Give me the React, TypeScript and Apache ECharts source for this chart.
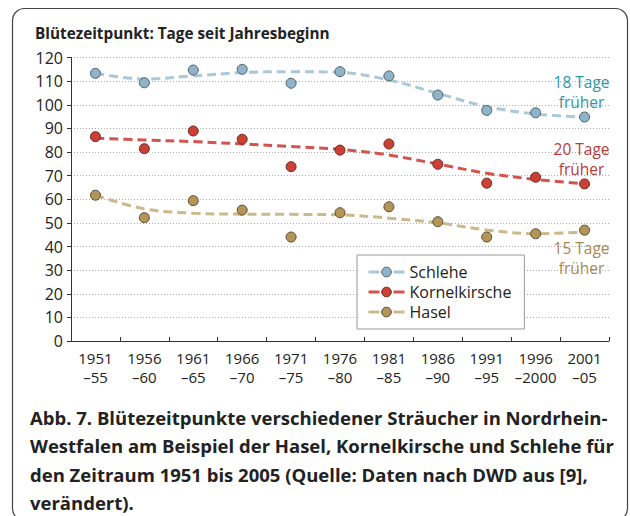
import React, { useEffect, useRef } from "react";
import * as echarts from "echarts";

const categories = [
  "1951\n–55", "1956\n–60", "1961\n–65", "1966\n–70", "1971\n–75", "1976\n–80",
  "1981\n–85", "1986\n–90", "1991\n–95", "1996\n–2000", "2001\n–05",
];

const schlehePoints = [113.3, 109.3, 114.7, 115.0, 109.1, 114.0, 112.2, 104.1, 97.6, 96.6, 94.8];
const schleheTrend = [113.3, 110.9, 112.2, 113.6, 114.0, 113.7, 110.5, 104.8, 99.2, 96.1, 94.7];
const kornelPoints = [86.5, 81.4, 88.9, 85.4, 73.8, 80.8, 83.4, 74.8, 66.8, 69.3, 66.5];
const kornelTrend = [85.8, 85.1, 84.4, 83.4, 82.3, 81.1, 78.7, 74.9, 71.0, 68.4, 66.5];
const haselPoints = [61.7, 52.2, 59.4, 55.4, 44.0, 54.3, 56.8, 50.5, 44.0, 45.4, 46.9];
const haselTrend = [61.7, 55.9, 54.1, 53.7, 53.6, 53.4, 52.0, 50.0, 47.0, 45.4, 46.1];

const seriesNames = ["Schlehe", "Kornelkirsche", "Hasel"];
const annotations = ["18 Tage\nfrüher", "20 Tage\nfrüher", "15 Tage\nfrüher"];

const titleText = "Blütezeitpunkt: Tage seit Jahresbeginn";
const captionText =
  "Abb. 7. Blütezeitpunkte verschiedener Sträucher in Nordrhein-\nWestfalen am Beispiel der Hasel, Kornelkirsche und Schlehe für\nden Zeitraum 1951 bis 2005 (Quelle: Daten nach DWD aus [9],\nverändert).";

const FONT = "'Open Sans', 'Noto Sans', sans-serif";

const styles = [
  { line: "#a9c8d8", fill: "#8fb3c8", border: "#4f5f68", text: "#2f97a6", labelPos: "top", dist: -1 },
  { line: "#d4534c", fill: "#cc3f35", border: "#6a2a25", text: "#b83a37", labelPos: "top", dist: -1 },
  { line: "#cdb88a", fill: "#b39459", border: "#5a4a30", text: "#a8894a", labelPos: "bottom", dist: 2 },
];

export default function App() {
  const ref = useRef<HTMLDivElement>(null);

  useEffect(() => {
    if (!ref.current) return;
    const chart = echarts.init(ref.current, undefined, { renderer: "svg" });
    const points = [schlehePoints, kornelPoints, haselPoints];
    const trends = [schleheTrend, kornelTrend, haselTrend];

    const lineSeries = seriesNames.map((name, k) => ({
      type: "line",
      name,
      data: trends[k],
      smooth: 0.35,
      showSymbol: false,
      symbol: "circle",
      z: 2,
      silent: true,
      lineStyle: { color: styles[k].line, width: 3, type: [9, 5] },
      itemStyle: { color: styles[k].fill, borderColor: styles[k].border, borderWidth: 1 },
    }));

    const scatterSeries = seriesNames.map((name, k) => ({
      type: "scatter",
      name: name + " Werte",
      symbol: "circle",
      symbolSize: 10,
      z: 3,
      itemStyle: { color: styles[k].fill, borderColor: styles[k].border, borderWidth: 1, opacity: 1 },
      data: points[k].map((v, i) =>
        i === points[k].length - 1
          ? {
              value: v,
              label: {
                show: true,
                formatter: annotations[k],
                position: styles[k].labelPos,
                distance: styles[k].dist,
                offset: [-3, 0],
                align: "center",
                color: styles[k].text,
                fontFamily: FONT,
                fontSize: 15.5,
                lineHeight: 20.5,
              },
            }
          : v
      ),
    }));

    chart.setOption({
      animation: false,
      backgroundColor: "#ffffff",
      title: {
        text: titleText,
        left: 35,
        top: 24,
        padding: 0,
        textStyle: { fontFamily: FONT, fontSize: 15.3, fontWeight: "bold", color: "#222", lineHeight: 18 },
      },
      grid: { left: 71, right: 21, top: 57.5, bottom: 175, containLabel: false },
      legend: {
        orient: "vertical",
        left: 357,
        top: 255,
        padding: [8, 13, 8, 10],
        itemGap: 2,
        itemWidth: 36,
        itemHeight: 12,
        backgroundColor: "#ffffff",
        borderColor: "#999",
        borderWidth: 1,
        borderRadius: 0,
        textStyle: { fontFamily: FONT, fontSize: 16, color: "#222", lineHeight: 18 },
        data: seriesNames.map((name, k) => ({
          name,
          lineStyle: { color: styles[k].line, width: 3, type: [11, 14] },
          itemStyle: { color: styles[k].fill, borderColor: styles[k].border, borderWidth: 1 },
        })),
      },
      xAxis: {
        type: "category",
        data: categories,
        boundaryGap: true,
        axisLine: { lineStyle: { color: "#333", width: 1 } },
        axisTick: { show: true, inside: true, length: 4, alignWithLabel: false, lineStyle: { color: "#333" } },
        axisLabel: { fontFamily: FONT, fontSize: 15, color: "#222", lineHeight: 19, margin: 7, interval: 0 },
        splitLine: { show: false },
      },
      yAxis: {
        type: "value",
        min: 0,
        max: 120,
        interval: 10,
        axisLine: { show: true, lineStyle: { color: "#333", width: 1 } },
        axisTick: { show: true, length: 4, lineStyle: { color: "#333" } },
        axisLabel: { fontFamily: FONT, fontSize: 16, color: "#222", margin: 8 },
        splitLine: { show: true, lineStyle: { color: "#aaa", type: [1, 2], width: 1 } },
      },
      graphic: [
        {
          type: "rect",
          shape: { x: 12.5, y: 8.5, width: 615, height: 512, r: 12 },
          style: { fill: "none", stroke: "#444", lineWidth: 1.2 },
          silent: true,
          z: -10,
        },
        {
          type: "text",
          left: 30,
          top: 403,
          style: {
            text: captionText,
            font: `bold 18.5px ${FONT}`,
            fill: "#222",
            lineHeight: 28.5,
          },
        },
      ],
      series: [...lineSeries, ...scatterSeries],
    });

    return () => chart.dispose();
  }, []);

  return (
    <div
      ref={ref}
      style={{ position: "fixed", left: 0, top: 0, width: 630, height: 516, background: "#fff" }}
    />
  );
}
